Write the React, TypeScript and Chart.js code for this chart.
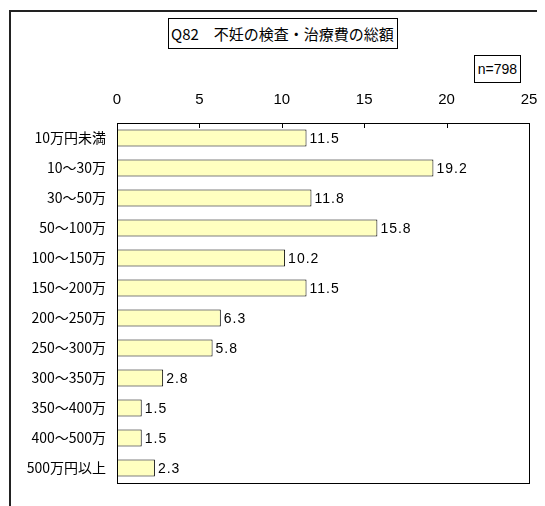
import React, { useEffect, useRef } from "react";
import { Chart, registerables } from "chart.js";

Chart.register(...registerables);

const categories = [
  "10万円未満",
  "10～30万",
  "30～50万",
  "50～100万",
  "100～150万",
  "150～200万",
  "200～250万",
  "250～300万",
  "300～350万",
  "350～400万",
  "400～500万",
  "500万円以上",
];
const values = [11.5, 19.2, 11.8, 15.8, 10.2, 11.5, 6.3, 5.8, 2.8, 1.5, 1.5, 2.3];
const xTicks = [0, 5, 10, 15, 20, 25];
const titleText = "Q82　不妊の検査・治療費の総額";
const sampleText = "n=798";

const decor = {
  id: "decor",
  afterDatasetsDraw(chart: any) {
    const { ctx, chartArea: a, scales } = chart;
    const x = scales.x;
    ctx.save();
    ctx.strokeStyle = "#000";
    ctx.lineWidth = 1;
    ctx.strokeRect(Math.round(a.left) + 0.5, Math.round(a.top) + 0.5, Math.round(a.right - a.left), Math.round(a.bottom - a.top));
    xTicks.slice(1, -1).forEach((v) => {
      const px = Math.round(x.getPixelForValue(v)) + 0.5;
      ctx.beginPath();
      ctx.moveTo(px, a.top);
      ctx.lineTo(px, a.top + 5);
      ctx.stroke();
    });
    const meta = chart.getDatasetMeta(0);
    ctx.fillStyle = "#000";
    ctx.font = "14px 'Liberation Sans', Arial, sans-serif";
    (ctx as any).letterSpacing = "1px";
    ctx.textAlign = "left";
    ctx.textBaseline = "middle";
    meta.data.forEach((bar: any, i: number) => {
      ctx.fillText(values[i].toFixed(1), bar.x + 3, bar.y + 1);
    });
    ctx.restore();
  },
};

export default function App() {
  const ref = useRef<HTMLCanvasElement>(null);
  useEffect(() => {
    if (!ref.current) return;
    const chart = new Chart(ref.current, {
      type: "bar",
      data: {
        labels: categories,
        datasets: [
          {
            data: values,
            backgroundColor: "#FFFFC0",
            borderColor: "#000",
            borderWidth: 1,
            borderSkipped: false,
            barPercentage: 0.57,
            categoryPercentage: 1,
          },
        ],
      },
      options: {
        indexAxis: "y",
        animation: false,
        responsive: false,
        layout: { padding: { left: 0, top: 0, right: 16, bottom: 23 } },
        plugins: { legend: { display: false }, tooltip: { enabled: false }, title: { display: false } },
        scales: {
          x: {
            type: "linear",
            position: "top",
            min: 0,
            max: 25,
            afterBuildTicks: (s: any) => {
              s.ticks = xTicks.map((v) => ({ value: v }));
            },
            afterFit: (s: any) => {
              s.height = 115;
              s.paddingLeft = 0;
              s.paddingRight = 0;
            },
            grid: { display: false, drawTicks: false },
            border: { display: false },
            ticks: {
              padding: 14,
              color: "#000",
              font: { family: "'Liberation Sans', Arial, sans-serif", size: 15 },
            },
          },
          y: {
            type: "category",
            afterFit: (s: any) => {
              s.width = 109;
              s.paddingTop = 0;
              s.paddingBottom = 0;
            },
            grid: { display: false, drawTicks: false },
            border: { display: false },
            ticks: {
              padding: 11,
              color: "#000",
              font: { family: "'Noto Sans CJK JP', sans-serif", size: 14 },
            },
          },
        },
      },
      plugins: [decor],
    });
    return () => chart.destroy();
  }, []);

  return (
    <div style={{ position: "relative", width: 537, height: 498 }}>
      <div
        style={{
          position: "absolute",
          left: 1,
          top: 2,
          width: 535,
          height: 495,
          borderTop: "2px solid #222",
          borderLeft: "2px solid #222",
        }}
      />
      <canvas ref={ref} width={537} height={498} style={{ position: "absolute", left: 0, top: 0 }} />
      <div
        style={{
          position: "absolute",
          left: 160,
          top: 10,
          width: 226,
          height: 29,
          border: "1px solid #000",
          background: "#fff",
          fontFamily: "'Noto Sans CJK JP', sans-serif",
          fontSize: 15,
          lineHeight: "29px",
          paddingLeft: 2,
          whiteSpace: "nowrap",
          boxSizing: "content-box",
        }}
      >
        {titleText}
      </div>
      <div
        style={{
          position: "absolute",
          left: 466,
          top: 47,
          width: 45,
          height: 26,
          border: "1px solid #000",
          background: "#fff",
          fontFamily: "'Liberation Sans', Arial, sans-serif",
          fontSize: 14,
          lineHeight: "26px",
          textAlign: "center",
          whiteSpace: "nowrap",
        }}
      >
        {sampleText}
      </div>
    </div>
  );
}
